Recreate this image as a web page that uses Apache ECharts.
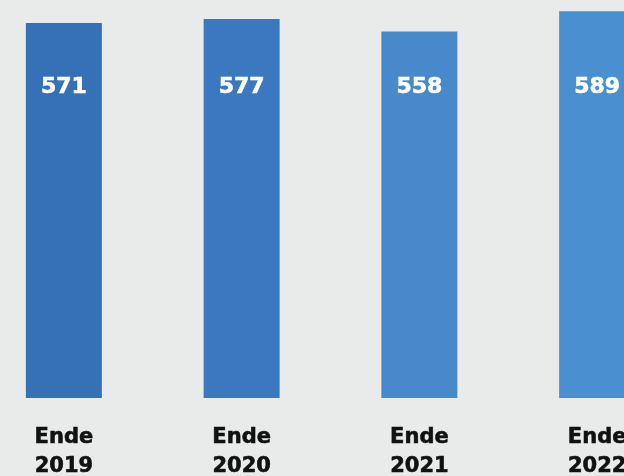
<!DOCTYPE html>
<html>
<head>
<meta charset="utf-8">
<script src="https://cdn.jsdelivr.net/npm/echarts@6/dist/echarts.min.js"></script>
<style>
  html, body { margin: 0; padding: 0; background: #e9ebeb; }
  #chart { width: 624px; height: 476px; }
</style>
</head>
<body>
<div id="chart"></div>
<script>
// Year-end counts
const categories = ['Ende\n2019', 'Ende\n2020', 'Ende\n2021', 'Ende\n2022'];
const values = [571, 577, 558, 589];
const barColors = ['#3671b8', '#3b78bf', '#4789cb', '#4a90d0'];

const chart = echarts.init(document.getElementById('chart'), null, { renderer: 'canvas' });

chart.setOption({
  backgroundColor: '#e9ebeb',
  animation: false,
  grid: { left: -25, right: -62, top: 4, bottom: 78, outerBoundsMode: 'none' },
  xAxis: {
    type: 'category',
    data: categories,
    axisLine: { show: false },
    axisTick: { show: false },
    axisLabel: {
      margin: 25,
      color: '#111111',
      fontFamily: 'DejaVu Sans',
      fontWeight: 'bold',
      fontSize: 21,
      lineHeight: 29,
      textBorderColor: '#111111',
      textBorderWidth: 0.6
    }
  },
  yAxis: {
    type: 'value',
    min: 0,
    max: 600,
    show: false,
    splitLine: { show: false }
  },
  series: [{
    type: 'bar',
    barWidth: 76,
    data: values.map((v, i) => ({ value: v, itemStyle: { color: barColors[i] } })),
    label: {
      show: true,
      position: 'insideBottom',
      distance: 300,
      color: '#ffffff',
      fontFamily: 'DejaVu Sans',
      fontWeight: 'bold',
      fontSize: 22,
      textBorderColor: '#ffffff',
      textBorderWidth: 0.6
    }
  }]
});
</script>
</body>
</html>
